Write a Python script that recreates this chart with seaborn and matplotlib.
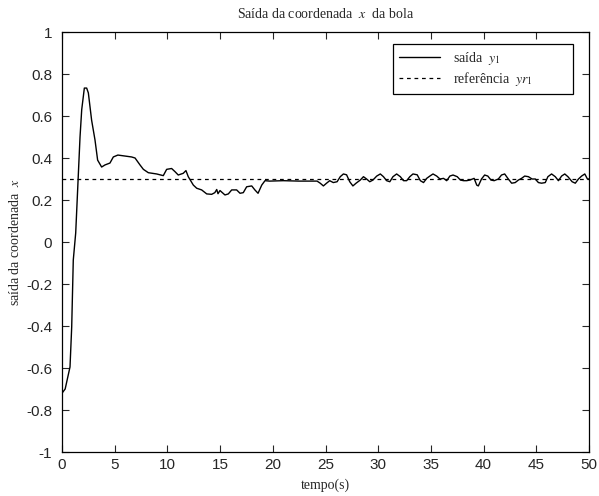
import matplotlib
matplotlib.use("Agg")
import matplotlib.pyplot as plt
import seaborn as sns
import pandas as pd
import numpy as np

# --- data ---
t_out = [0.0, 0.3, 0.76, 0.92, 1.07, 1.3, 1.49, 1.71, 1.87, 2.12, 2.34, 2.5, 2.81, 3.13, 3.38,
         3.76, 4.08, 4.55, 4.87, 5.3, 6.6, 6.93, 7.4, 7.72, 8.19, 8.98, 9.61, 9.93, 10.4, 10.72,
         11.03, 11.5, 11.76, 11.98, 12.46, 12.78, 13.25, 13.73, 14.2, 14.5, 14.68, 14.8, 14.99,
         15.46, 15.78, 16.1, 16.57, 16.89, 17.2, 17.52, 18.0, 18.3, 18.6, 18.95, 19.26, 19.7,
         21.0, 22.5, 24.2, 24.5, 24.8, 25.1, 25.4, 25.74, 26.1, 26.4, 26.7, 27.0, 27.3, 27.6,
         27.9, 28.3, 28.6, 28.9, 29.2, 29.5, 29.86, 30.2, 30.5, 30.8, 31.1, 31.4, 31.75, 32.1,
         32.4, 32.7, 33.0, 33.3, 33.7, 34.0, 34.3, 34.6, 34.9, 35.2, 35.55, 35.86, 36.2, 36.5,
         36.8, 37.1, 37.5, 37.8, 38.1, 38.4, 38.7, 39.1, 39.35, 39.5, 39.8, 40.1, 40.4, 40.7,
         41.0, 41.4, 41.7, 42.0, 42.3, 42.66, 43.0, 43.3, 43.6, 43.9, 44.25, 44.6, 44.9, 45.2,
         45.5, 45.85, 46.1, 46.45, 46.8, 47.1, 47.4, 47.7, 48.0, 48.4, 48.7, 49.0, 49.3, 49.6,
         49.85, 50.0]
y_out = [-0.72, -0.70, -0.595, -0.405, -0.086, 0.043, 0.26, 0.50, 0.63, 0.733, 0.733, 0.71, 0.58,
         0.486, 0.39, 0.357, 0.367, 0.376, 0.405, 0.414, 0.405, 0.40, 0.367, 0.346, 0.33, 0.324,
         0.316, 0.346, 0.35, 0.335, 0.319, 0.327, 0.34, 0.311, 0.271, 0.256, 0.248, 0.229, 0.227,
         0.235, 0.25, 0.23, 0.245, 0.224, 0.229, 0.248, 0.248, 0.232, 0.235, 0.263, 0.267, 0.248,
         0.232, 0.271, 0.292, 0.29, 0.292, 0.29, 0.29, 0.28, 0.267, 0.28, 0.292, 0.283, 0.287,
         0.311, 0.324, 0.32, 0.287, 0.267, 0.28, 0.295, 0.311, 0.30, 0.287, 0.295, 0.314, 0.324,
         0.311, 0.292, 0.287, 0.311, 0.324, 0.311, 0.292, 0.292, 0.311, 0.324, 0.32, 0.292,
         0.283, 0.303, 0.314, 0.324, 0.314, 0.30, 0.303, 0.292, 0.314, 0.319, 0.311, 0.295,
         0.292, 0.292, 0.295, 0.303, 0.271, 0.267, 0.30, 0.319, 0.314, 0.295, 0.292, 0.30,
         0.319, 0.324, 0.303, 0.28, 0.283, 0.295, 0.303, 0.314, 0.311, 0.30, 0.30, 0.283, 0.28,
         0.283, 0.311, 0.324, 0.311, 0.292, 0.314, 0.324, 0.311, 0.287, 0.28, 0.30, 0.314,
         0.324, 0.30, 0.30]
t_ref = [0.0, 50.0]
y_ref = [0.3, 0.3]

title = "Saída da coordenada  $x$  da bola"
xlabel = "tempo(s)"
ylabel = "saída da coordenada  $x$"
label_out = "saída  $y_1$"
label_ref = "referência  $yr_1$"
xticks = [0, 5, 10, 15, 20, 25, 30, 35, 40, 45, 50]
yticks = [-1, -0.8, -0.6, -0.4, -0.2, 0, 0.2, 0.4, 0.6, 0.8, 1]
ytick_labels = ["-1", "-0.8", "-0.6", "-0.4", "-0.2", "0", "0.2", "0.4", "0.6", "0.8", "1"]

sns.set_style("ticks")
plt.rcParams["font.family"] = ["Liberation Serif", "DejaVu Serif"]
plt.rcParams["mathtext.fontset"] = "stix"

df_out = pd.DataFrame({"t": t_out, "y": y_out})
df_ref = pd.DataFrame({"t": t_ref, "y": y_ref})

fig = plt.figure(figsize=(5.99, 4.96), dpi=100)
ax = fig.add_axes([62 / 599, 1 - 452 / 496, 527 / 599, 420 / 496])

sns.lineplot(data=df_out, x="t", y="y", ax=ax, color="black", lw=1.0, label=label_out)
sns.lineplot(data=df_ref, x="t", y="y", ax=ax, color="black", lw=0.9,
             linestyle=(0, (3, 3)), label=label_ref)

ax.set_xlim(0, 50)
ax.set_ylim(-1, 1)
ax.set_xticks(xticks)
ax.set_xticklabels([str(v) for v in xticks])
ax.set_yticks(yticks)
ax.set_yticklabels(ytick_labels)
for lab in ax.get_xticklabels() + ax.get_yticklabels():
    lab.set_fontfamily("Liberation Sans")
    lab.set_fontsize(11)
ax.tick_params(direction="in", top=True, right=True, length=5, width=0.8)
ax.tick_params(axis="x", pad=4)
ax.tick_params(axis="y", pad=7)
for s in ax.spines.values():
    s.set_visible(True)
    s.set_linewidth(0.9)
    s.set_color("black")

ax.set_title(title, fontsize=10, pad=10)
ax.set_xlabel(xlabel, fontsize=10, labelpad=5)
ax.set_ylabel(ylabel, fontsize=10, labelpad=3)

box_x0 = (393 - 62) / 527
box_w = 180 / 527
box_top = (452 - 44) / 420
box_h = 48 / 420
leg = ax.legend(loc="upper left", bbox_to_anchor=(box_x0, box_top - box_h, box_w, box_h),
                mode="expand", fontsize=10,
                frameon=True, fancybox=False, framealpha=1, edgecolor="black",
                handlelength=2.9, handletextpad=1.0, borderpad=0.45, labelspacing=0.2,
                borderaxespad=0)
leg.get_frame().set_linewidth(0.9)

fig.savefig("out.png", dpi=100)
